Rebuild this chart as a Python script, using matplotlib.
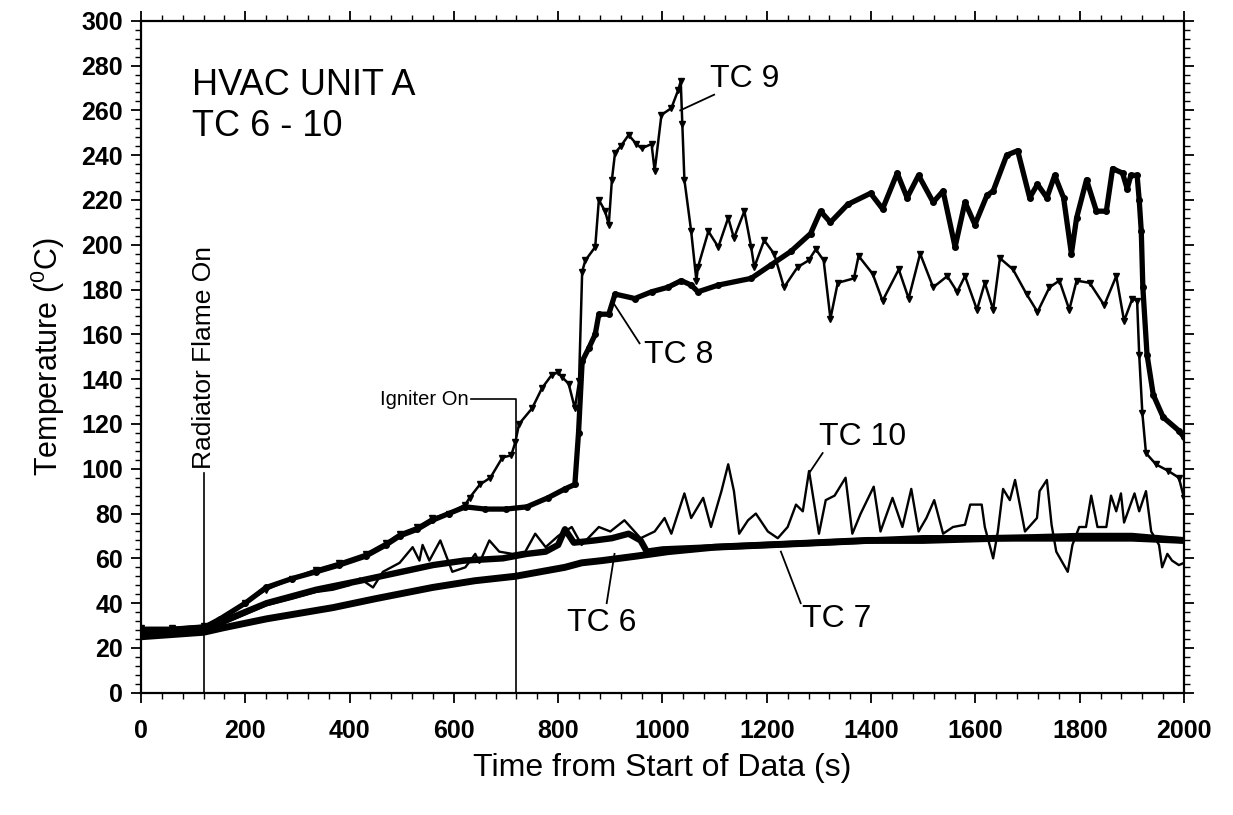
import matplotlib
matplotlib.use("Agg")
import matplotlib.pyplot as plt
from matplotlib.ticker import MultipleLocator

plt.rcParams['font.family'] = ['Liberation Sans', 'DejaVu Sans']
plt.rcParams['mathtext.fontset'] = 'custom'
plt.rcParams['mathtext.rm'] = 'Liberation Sans'
plt.rcParams['mathtext.it'] = 'Liberation Sans'

# ---------------- data ----------------
tc8_t = [0, 60, 120, 152, 200, 240, 290, 336, 380, 431, 470, 496, 530, 559, 590, 622,
         660, 700, 740, 780, 813, 832, 839, 846, 859, 871, 878, 897, 909, 947, 979,
         1010, 1036, 1055, 1068, 1107, 1170, 1208, 1246, 1284, 1303, 1322, 1355, 1399,
         1422, 1450, 1469, 1491, 1519, 1538, 1561, 1580, 1599, 1622, 1634, 1660, 1681,
         1704, 1719, 1737, 1752, 1769, 1784, 1794, 1813, 1832, 1851, 1863, 1882, 1891,
         1898, 1910, 1914, 1918, 1921, 1929, 1941, 1960, 1990, 2000]
tc8_v = [28, 28, 29, 33, 40, 47, 51, 54, 57, 61, 66, 70, 73, 77, 80, 83,
         82, 82, 83, 87, 91, 93, 116, 148, 154, 160, 169, 169, 178, 176, 179,
         181, 184, 182, 179, 182, 185, 191, 197, 205, 215, 210, 218, 223,
         216, 232, 221, 231, 219, 224, 199, 219, 209, 222, 224, 240, 242,
         221, 227, 221, 231, 221, 196, 212, 229, 215, 215, 234, 232, 225,
         231, 231, 220, 206, 181, 151, 133, 123, 117, 114]

tc9_t = [0, 60, 120, 150, 200, 240, 290, 336, 380, 431, 470, 496, 530, 559, 590, 622,
         630, 650, 670, 693, 710, 718, 725, 750, 769, 788, 800, 807, 820, 832, 840,
         846, 852, 871, 878, 890, 897, 903, 909, 920, 935, 950, 960, 979, 985, 998,
         1017, 1030, 1035, 1038, 1042, 1055, 1065, 1068, 1088, 1107, 1126, 1137, 1157,
         1170, 1176, 1195, 1214, 1233, 1259, 1280, 1294, 1309, 1322, 1336, 1367, 1376,
         1403, 1422, 1453, 1472, 1494, 1519, 1546, 1565, 1580, 1603, 1618, 1634, 1647,
         1672, 1698, 1719, 1742, 1761, 1780, 1794, 1819, 1847, 1870, 1885, 1901, 1910,
         1914, 1920, 1927, 1946, 1970, 1990, 2000]
tc9_v = [29, 29, 30, 32, 40, 46, 51, 55, 58, 62, 67, 71, 74, 78, 80, 84,
         87, 93, 96, 105, 106, 112, 120, 127, 136, 142, 143, 141, 138, 127, 139,
         188, 193, 199, 220, 215, 209, 229, 241, 244, 249, 245, 243, 245, 233, 258,
         261, 269, 273, 254, 229, 206, 184, 190, 206, 199, 212, 203, 215,
         199, 190, 202, 196, 181, 190, 193, 198, 193, 167, 183, 185, 195,
         187, 175, 189, 176, 196, 181, 186, 179, 186, 171, 183, 171, 194,
         189, 178, 170, 181, 184, 171, 184, 183, 173, 186, 166, 176, 175,
         151, 125, 107, 102, 99, 96, 87]

tc10_t = [0, 60, 120, 150, 200, 240, 290, 336, 368, 400, 420, 445, 464, 496, 521, 534,
          540, 553, 574, 597, 622, 641, 649, 668, 687, 712, 737, 756, 776, 800, 826,
          845, 878, 900, 927, 958, 985, 1004, 1017, 1042, 1055, 1078, 1093, 1113, 1126,
          1137, 1147, 1164, 1179, 1202, 1221, 1240, 1256, 1269, 1281, 1300, 1313, 1330,
          1351, 1364, 1380, 1405, 1418, 1441, 1460, 1477, 1491, 1506, 1521, 1538, 1557,
          1580, 1590, 1612, 1618, 1634, 1643, 1653, 1666, 1676, 1695, 1718, 1723, 1737,
          1746, 1755, 1777, 1786, 1799, 1812, 1822, 1834, 1851, 1860, 1870, 1879, 1885,
          1905, 1914, 1927, 1937, 1952, 1958, 1968, 1977, 1990, 2000]
tc10_v = [26, 27, 28, 30, 35, 39, 42, 45, 46, 48, 51, 47, 54, 58, 65, 59,
          66, 59, 68, 54, 56, 62, 58, 68, 63, 62, 63, 71, 65, 70, 74,
          66, 74, 72, 77, 69, 72, 78, 71, 89, 78, 87, 74, 90, 102,
          90, 71, 77, 80, 72, 69, 74, 84, 81, 99, 71, 86, 88,
          96, 71, 80, 92, 72, 87, 74, 91, 72, 78, 86, 71, 74,
          75, 84, 84, 74, 60, 72, 91, 86, 95, 72, 78, 90, 95,
          75, 63, 54, 66, 74, 74, 88, 74, 74, 88, 81, 89, 76,
          89, 81, 90, 72, 66, 56, 62, 59, 57, 58]

tc7_t = [0, 60, 120, 158, 241, 336, 420, 500, 560, 620, 694, 740, 776, 800, 813, 830,
         870, 903, 935, 958, 970, 1000, 1100, 1200, 1300, 1400, 1500, 1650, 1800,
         1900, 1950, 2000]
tc7_v = [27, 28, 29, 32, 40, 46, 50, 54, 57, 59, 60, 62, 63, 66, 73, 67,
         68, 69, 71, 68, 63, 64, 65, 66, 67, 68, 69, 69, 70,
         70, 69, 68]

tc6_t = [0, 60, 120, 158, 241, 368, 450, 559, 640, 718, 813, 845, 884, 950, 1011,
         1100, 1202, 1300, 1393, 1500, 1647, 1800, 1900, 2000]
tc6_v = [25, 26, 27, 29, 33, 38, 42, 47, 50, 52, 56, 58, 59, 61, 63,
         65, 66, 67, 68, 68, 69, 69, 69, 68]

events_t = [120, 720]
event_names = ["Radiator Flame On", "Igniter On"]

x_ticks = list(range(0, 2001, 200))
y_ticks = list(range(0, 301, 20))

# ---------------- figure ----------------
fig = plt.figure(figsize=(12.33, 8.15), dpi=100)
ax = fig.add_axes([0.1143, 0.150, 0.8460, 0.8245])

ax.plot(tc6_t, tc6_v, color='black', lw=5.0, solid_capstyle='round', zorder=3)
ax.plot(tc7_t, tc7_v, color='black', lw=4.6, solid_capstyle='round', zorder=3)
ax.plot(tc10_t, tc10_v, color='black', lw=1.7, zorder=4)
ax.plot(tc8_t, tc8_v, color='black', lw=3.8, marker='o', ms=4, zorder=5)
ax.plot(tc9_t, tc9_v, color='black', lw=1.8, marker='v', ms=5, zorder=6)

# event markers
ax.plot([events_t[0], events_t[0]], [0, 98], color='black', lw=1.2, zorder=2)
ax.text(events_t[0], 100, event_names[0], rotation=90, ha='center', va='bottom',
        fontsize=19)
ax.plot([events_t[1], events_t[1], 632], [0, 131, 131], color='black', lw=1.2, zorder=2)
ax.text(628, 131, event_names[1], ha='right', va='center', fontsize=14.5)

# title block
ax.text(98, 271, "HVAC UNIT A", fontsize=26, va='center', ha='left')
ax.text(98, 253, "TC 6 - 10", fontsize=26, va='center', ha='left')

# series labels with leaders
def lab(txt, tx, ty, x0, y0, x1, y1):
    ax.text(tx, ty, txt, fontsize=23, ha='center', va='center')
    ax.plot([x0, x1], [y0, y1], color='black', lw=1.3, zorder=7)

lab("TC 9", 1158, 274, 1099, 267, 1034, 260)
lab("TC 8", 1032, 151, 956, 156, 906, 174)
lab("TC 10", 1384, 114, 1307, 107, 1281, 98)
lab("TC 6", 884, 31, 893, 40, 908, 62)
lab("TC 7", 1334, 33, 1265, 40, 1227, 63)

ax.set_xlim(0, 2000)
ax.set_ylim(0, 300)
ax.set_xticks(x_ticks)
ax.set_yticks(y_ticks)
ax.xaxis.set_minor_locator(MultipleLocator(40))
ax.yaxis.set_minor_locator(MultipleLocator(4))
ax.tick_params(axis='both', which='major', direction='out', length=7, width=1.3,
               labelsize=18)
ax.tick_params(axis='x', which='major', pad=12)
ax.tick_params(axis='y', which='major', pad=6)
ax.tick_params(axis='both', which='minor', direction='out', length=4, width=1.0)
ax.tick_params(top=True, right=True, which='both')
for lbl in ax.get_xticklabels() + ax.get_yticklabels():
    lbl.set_fontweight('bold')
for s in ax.spines.values():
    s.set_linewidth(1.6)

ax.set_xlabel("Time from Start of Data (s)", fontsize=23, labelpad=7)
ax.set_ylabel("Temperature ($^{0}$C)", fontsize=22, labelpad=10)

fig.savefig("out.png", dpi=100)
